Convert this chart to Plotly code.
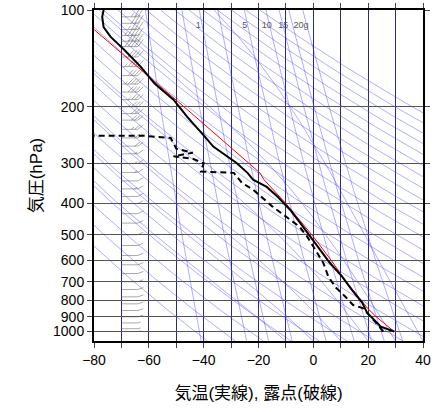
import numpy as np
import plotly.graph_objects as go

# sounding: temperature (solid)
t_p = [1000, 965, 873, 813, 741, 675, 611, 556, 507, 459, 418, 381, 355, 337, 321,
       299, 266, 248, 215, 190, 169, 150, 133, 121, 113, 105, 100]
t_c = [29.5, 24.6, 19.6, 17.8, 14, 10.5, 6, 2.5, -1, -4.8, -8.5, -13, -17, -22, -24,
       -28, -36.5, -39.5, -46, -51, -58, -63, -69, -74, -76.5, -77, -76.5]
# dewpoint (dashed)
td_p = [1000, 931, 845, 827, 778, 727, 672, 611, 544, 506, 472, 408, 362, 345, 321,
        318, 300, 290, 285, 278, 270, 250, 246, 246]
td_c = [25.5, 22.5, 18, 14.5, 11.6, 8, 5.4, 3.6, 0, -2.3, -5, -15, -22, -26, -29,
        -41, -40, -44, -51, -44, -50, -52, -62, -80]
# parcel (red)
pc_p = [1000, 900, 850, 800, 700, 600, 507, 400, 337, 321, 204, 115]
pc_c = [29.5, 23, 20, 17.5, 12, 6.5, 0, -10, -18, -19.5, -46, -80]
# wind barbs: levels and speeds (kt)
wb_p = [105, 110, 115, 120, 125, 130, 140, 150, 160, 170, 180, 190, 200, 210, 220, 235,
        250, 265, 280, 300, 320, 340, 360, 380, 400, 430, 460, 500, 540, 580, 620, 660,
        700, 740, 780, 820, 860, 900, 940, 980, 1000]
wb_s = [25, 30, 35, 45, 40, 50, 40, 45, 40, 45, 40, 35, 35, 30, 30, 25, 20, 20, 15, 15,
        15, 10, 15, 10, 10, 10, 10, 10, 10, 10, 10, 10, 10, 10, 10, 10, 10, 10, 5, 5, 5]
mr_vals = [0.1, 0.5, 1, 2, 5, 10, 15, 20, 30]
mr_labels = ["1", "5", "10", "15", "20g"]
mr_lab_x = [-42, -25, -17, -11, -4.5]

P = np.logspace(np.log10(1070), 2, 80)
fig = go.Figure()
bg = dict(color="rgba(60,60,255,0.6)", width=0.7)

# dry adiabats
xs, ys = [], []
for th in range(230, 500, 10):
    T = th * (P / 1000) ** 0.286 - 273.15
    xs += list(T) + [None]; ys += list(P) + [None]
fig.add_trace(go.Scatter(x=xs, y=ys, mode="lines", line=bg, hoverinfo="skip"))

def es(T):
    return 6.112 * np.exp(17.67 * T / (T + 243.5))

def tsat(w, p):
    e = w / 1000 * p / (0.622 + w / 1000)
    l = np.log(e / 6.112)
    return 243.5 * l / (17.67 - l)

# mixing ratio lines
xs, ys = [], []
for w in mr_vals:
    xs += list(tsat(w, P)) + [None]; ys += list(P) + [None]
fig.add_trace(go.Scatter(x=xs, y=ys, mode="lines", line=bg, hoverinfo="skip"))

# moist adiabats
xs, ys = [], []
pm = np.linspace(1070, 100, 200)
for t0 in range(-10, 45, 10):
    T = float(t0); pts = []
    for p in pm:
        pts.append(T)
        dp = -(1070 - 100) / 199
        Tk = T + 273.15
        ws = 0.622 * es(T) / (p - es(T))
        gam = (0.286 * Tk + 2.5e6 * ws / 1004) / (1 + 2.5e6 ** 2 * ws * 0.622 / (1004 * 287 * Tk ** 2)) / p
        T += gam * dp
    xs += pts + [None]; ys += list(pm) + [None]
fig.add_trace(go.Scatter(x=xs, y=ys, mode="lines", line=bg, hoverinfo="skip"))

# wind barbs
xs, ys = [], []
for p, s in zip(wb_p, wb_s):
    f = 1 + 0.012 * (1 + 1000 / p) * 0.5
    xs += [-70, -64, None]; ys += [p, p, None]
    x0 = -64
    for k in range(int(s // 10)):
        xs += [x0, x0 + 2, None]; ys += [p, p / f, None]; x0 -= 1.2
    if s % 10:
        xs += [x0, x0 + 1, None]; ys += [p, p / f ** 0.5, None]
fig.add_trace(go.Scatter(x=xs, y=ys, mode="lines", line=dict(color="#555", width=0.5), hoverinfo="skip"))

fig.add_trace(go.Scatter(x=pc_c, y=pc_p, mode="lines", line=dict(color="red", width=1)))
fig.add_trace(go.Scatter(x=td_c, y=td_p, mode="lines", line=dict(color="black", width=2, dash="6px,4px")))
fig.add_trace(go.Scatter(x=t_c, y=t_p, mode="lines", line=dict(color="black", width=2)))

fig.add_trace(go.Scatter(x=mr_lab_x, y=[112] * 5, mode="text",
                         text=mr_labels, textfont=dict(size=9, color="#555"), cliponaxis=False))

yt = [100, 200, 300, 400, 500, 600, 700, 800, 900, 1000]
fig.update_layout(
    width=435, height=412, showlegend=False, plot_bgcolor="white", paper_bgcolor="white",
    margin=dict(l=94, r=12, t=10, b=71, autoexpand=False),
    font=dict(family="Liberation Sans, Noto Sans CJK JP", size=14, color="black"),
    xaxis=dict(range=[-80, 40], tickvals=list(range(-80, 41, 20)),
               showgrid=True, gridcolor="#2a2a80", gridwidth=1,
               minor=dict(dtick=10, showgrid=True, gridcolor="#2a2a80", ticks="outside", ticklen=5),
               ticks="outside", ticklen=5, mirror="ticks", showline=True, linecolor="black", linewidth=2,
               zeroline=False, automargin=False, title=dict(text="気温(実線), 露点(破線)", standoff=20)),
    yaxis=dict(type="log", range=[np.log10(1070), 2], tickvals=yt, ticktext=[str(v) for v in yt],
               showgrid=True, gridcolor="#555", gridwidth=1, ticks="outside", ticklen=5,
               mirror="ticks", showline=True, linecolor="black", linewidth=2, automargin=False,
               title=dict(text="気圧(hPa)", standoff=6)),
)
fig.write_html("out.html", config={"displayModeBar": False},
               post_script="document.body.style.margin='0';")
